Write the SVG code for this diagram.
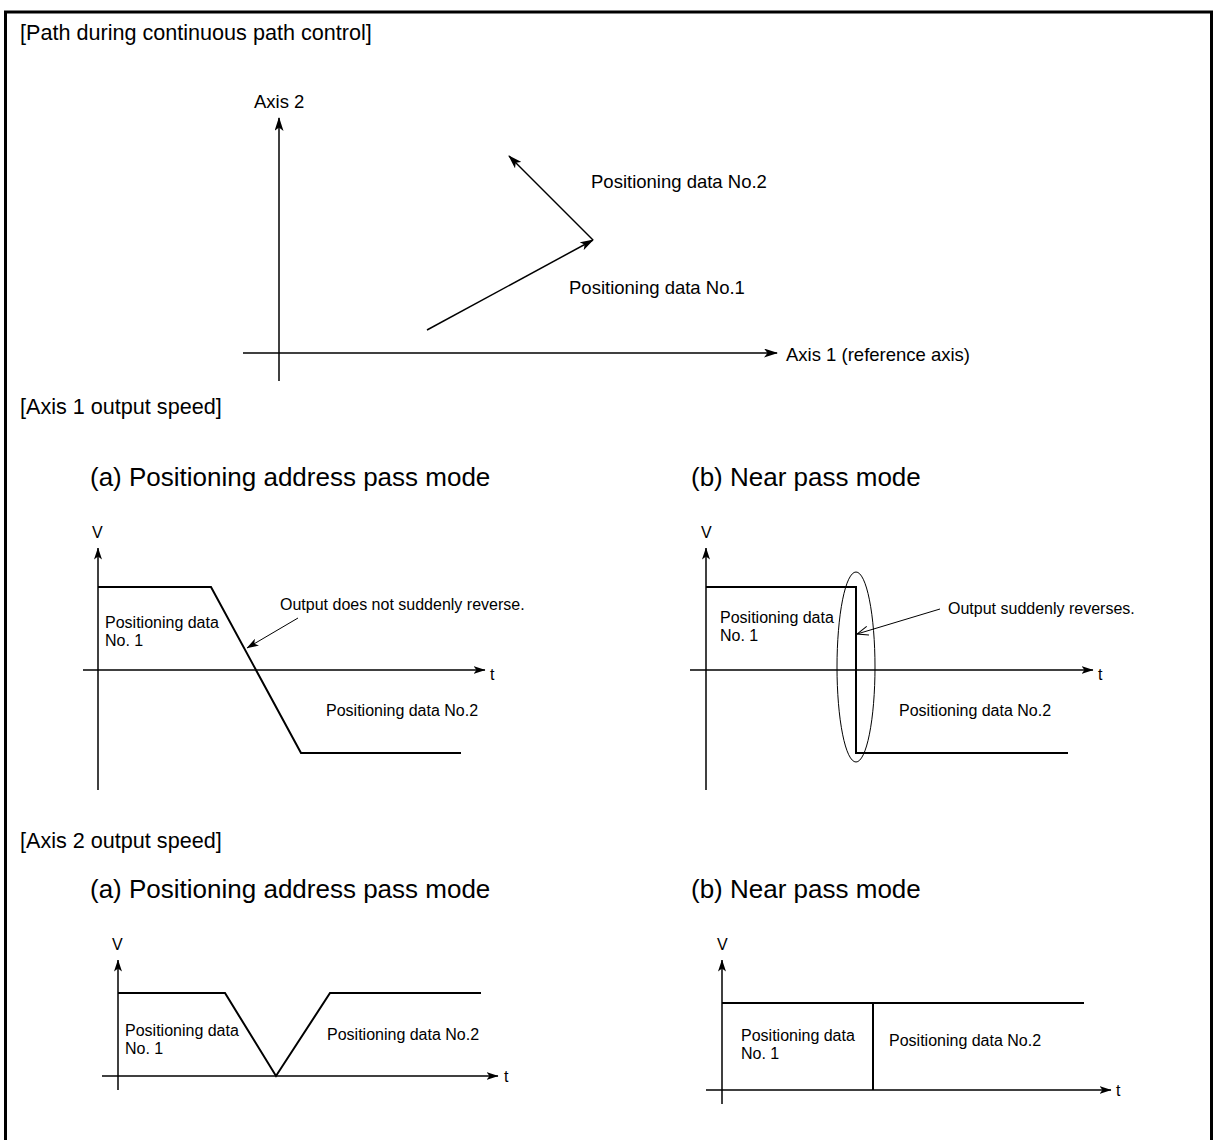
<svg xmlns="http://www.w3.org/2000/svg" width="1216" height="1140" viewBox="0 0 1216 1140">
<style>
text{font-family:"Liberation Sans",Arial,sans-serif;fill:#000}
.h1{font-size:21.6px}
.h2{font-size:26px}
.lb{font-size:18.5px}
.sm{font-size:16px}
.ax{stroke:#000;stroke-width:1.5;fill:none}
.cv{stroke:#000;stroke-width:2;fill:none}
.ld{stroke:#000;stroke-width:1;fill:none}
</style>
<defs>
<marker id="ah" viewBox="0 0 14 9" refX="13" refY="4.5" markerWidth="14" markerHeight="9" markerUnits="userSpaceOnUse" orient="auto">
<path d="M0,0 L14,4.5 L0,9 L3.5,4.5 Z" fill="#000"/>
</marker>
<marker id="ahs" viewBox="0 0 12 8" refX="11.5" refY="4" markerWidth="12" markerHeight="8" markerUnits="userSpaceOnUse" orient="auto">
<path d="M0,0 L12,4 L0,8 L3,4 Z" fill="#000"/>
</marker>
<marker id="aho" viewBox="0 0 12 10" refX="11.5" refY="5" markerWidth="12" markerHeight="10" markerUnits="userSpaceOnUse" orient="auto">
<path d="M0,0.5 L11.5,5 L0,9.5" fill="none" stroke="#000" stroke-width="1"/>
</marker>
</defs>
<rect width="1216" height="1140" fill="#fff"/>
<path d="M5.5,1145 V12 H1211.5 V1145" fill="none" stroke="#000" stroke-width="3"/>

<g id="titles">
<text class="h1" x="20" y="40">[Path during continuous path control]</text>
<text class="h1" x="20" y="414">[Axis 1 output speed]</text>
<text class="h2" x="90" y="486">(a) Positioning address pass mode</text>
<text class="h2" x="691" y="486">(b) Near pass mode</text>
<text class="h1" x="20" y="848">[Axis 2 output speed]</text>
<text class="h2" x="90" y="898">(a) Positioning address pass mode</text>
<text class="h2" x="691" y="898">(b) Near pass mode</text>
</g>

<g id="path-diagram">
<line class="ax" x1="279" y1="381" x2="279" y2="118" marker-end="url(#ah)"/>
<line class="ax" x1="243" y1="353" x2="777" y2="353" marker-end="url(#ah)"/>
<text class="lb" x="254" y="108">Axis 2</text>
<text class="lb" x="786" y="361">Axis 1 (reference axis)</text>
<text class="lb" x="591" y="188">Positioning data No.2</text>
<text class="lb" x="569" y="294">Positioning data No.1</text>
</g>

<g id="connectors">
<line class="ax" x1="427" y1="330" x2="593" y2="240" marker-end="url(#ah)"/>
<line class="ax" x1="593" y1="240" x2="509" y2="156" marker-end="url(#ah)"/>
</g>

<g id="axis1-a">
<line class="ax" x1="98" y1="790" x2="98" y2="548" marker-end="url(#ahs)"/>
<line class="ax" x1="83" y1="670" x2="485" y2="670" marker-end="url(#ahs)"/>
<text class="sm" x="92" y="538">V</text>
<text class="sm" x="490" y="680">t</text>
<polyline class="cv" points="98,587 211,587 301,753 461,753"/>
<text class="sm" x="105" y="628">Positioning data</text>
<text class="sm" x="105" y="646">No. 1</text>
<text class="sm" x="326" y="716">Positioning data No.2</text>
<text class="sm" x="280" y="610">Output does not suddenly reverse.</text>
<line class="ld" x1="298" y1="618" x2="247" y2="648" marker-end="url(#ahs)"/>
</g>

<g id="axis1-b">
<line class="ax" x1="706" y1="790" x2="706" y2="548" marker-end="url(#ahs)"/>
<line class="ax" x1="690" y1="670" x2="1093" y2="670" marker-end="url(#ahs)"/>
<text class="sm" x="701" y="538">V</text>
<text class="sm" x="1098" y="680">t</text>
<polyline class="cv" points="706,587 856,587 856,753 1068,753"/>
<ellipse cx="856" cy="667" rx="19" ry="95" class="ld"/>
<text class="sm" x="720" y="623">Positioning data</text>
<text class="sm" x="720" y="641">No. 1</text>
<text class="sm" x="899" y="716">Positioning data No.2</text>
<text class="sm" x="948" y="614">Output suddenly reverses.</text>
<line class="ld" x1="940" y1="609" x2="857" y2="634" marker-end="url(#aho)"/>
</g>

<g id="axis2-a">
<line class="ax" x1="118" y1="1090" x2="118" y2="960" marker-end="url(#ahs)"/>
<line class="ax" x1="102" y1="1076" x2="498" y2="1076" marker-end="url(#ahs)"/>
<text class="sm" x="112" y="950">V</text>
<text class="sm" x="504" y="1082">t</text>
<polyline class="cv" points="118,993 225,993 276,1076 330,993 481,993"/>
<text class="sm" x="125" y="1036">Positioning data</text>
<text class="sm" x="125" y="1054">No. 1</text>
<text class="sm" x="327" y="1040">Positioning data No.2</text>
</g>

<g id="axis2-b">
<line class="ax" x1="722" y1="1104" x2="722" y2="960" marker-end="url(#ahs)"/>
<line class="ax" x1="706" y1="1090" x2="1111" y2="1090" marker-end="url(#ahs)"/>
<text class="sm" x="717" y="950">V</text>
<text class="sm" x="1116" y="1096">t</text>
<line class="cv" x1="722" y1="1003" x2="1084" y2="1003"/>
<line class="cv" x1="873" y1="1003" x2="873" y2="1090"/>
<text class="sm" x="741" y="1041">Positioning data</text>
<text class="sm" x="741" y="1059">No. 1</text>
<text class="sm" x="889" y="1046">Positioning data No.2</text>
</g>
</svg>
